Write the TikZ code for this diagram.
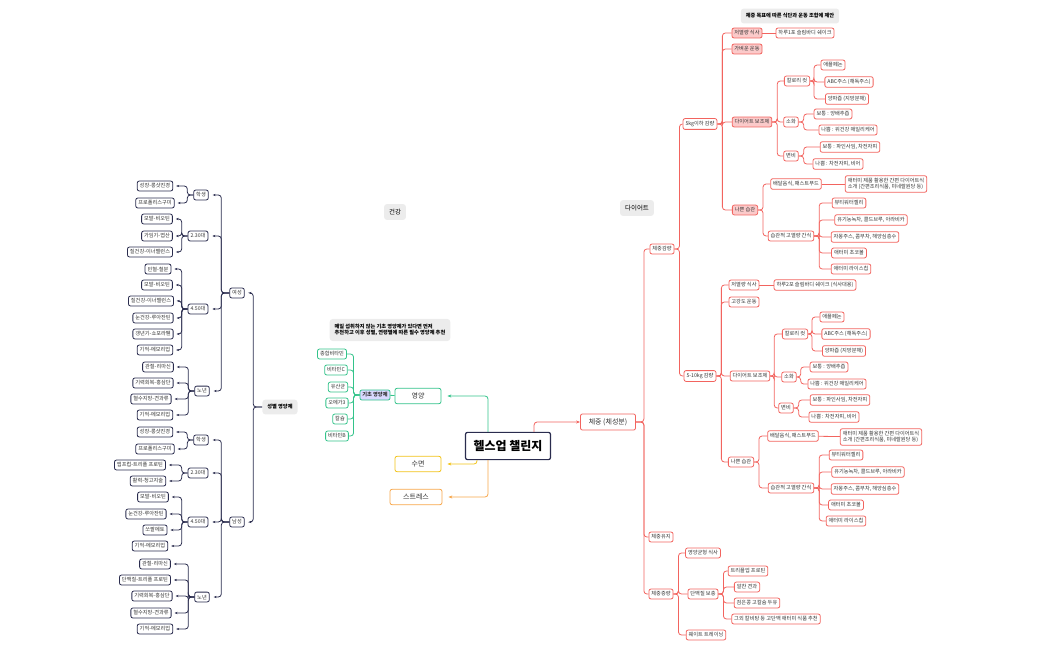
\documentclass[tikz,border=0pt]{standalone}
\usepackage{fontspec}
\setmainfont{Noto Sans CJK KR}
\usetikzlibrary{positioning,arrows.meta}
\definecolor{rline}{HTML}{F2645F}
\definecolor{rpink}{HTML}{FBCACA}
\definecolor{gline}{HTML}{33C38A}
\definecolor{nline}{HTML}{2A2C4E}
\definecolor{yline}{HTML}{F2C318}
\definecolor{oline}{HTML}{F7A64A}
\tikzset{x=1pt, y=-1pt,
box/.style={draw, rounded corners=2pt, line width=0.8pt, fill=white, inner xsep=2.5pt, inner ysep=2.6pt, font=\fontsize{5.2}{6}\selectfont, text=black!80}, % base box
rbox/.style={box, draw=rline},
rfill/.style={rbox, fill=rpink},
gbox/.style={box, draw=gline},
nbox/.style={box, draw=nline},
note/.style={fill=gray!15, rounded corners=3pt, inner sep=5pt, font=\fontsize{5.2}{6.5}\selectfont\bfseries, align=left},
rl/.style={draw=rline, line width=0.8pt, rounded corners=3pt},
gl/.style={draw=gline, line width=0.8pt, rounded corners=3pt},
nl/.style={draw=nline, line width=0.8pt, rounded corners=3pt, -{Stealth[length=3pt]}},
}
\begin{document}
\begin{tikzpicture}
\useasboundingbox (0,0) rectangle (1050,650);
% center
\node[draw=nline, line width=1.2pt, rounded corners=2pt, fill=white, inner xsep=8pt, inner ysep=8pt, font=\fontsize{12}{13}\selectfont\bfseries] (root) at (508,446) {헬스업 챌린지};
\node[rbox, font=\fontsize{7}{8}\selectfont, inner sep=4.5pt, minimum width=55pt] (wt) at (608,422) {체중 (체성분)};
\node[gbox, font=\fontsize{7}{8}\selectfont, inner sep=4.5pt, minimum width=46pt] (ny) at (418,396) {영양};
\node[box, draw=yline, font=\fontsize{7}{8}\selectfont, inner sep=4.5pt, minimum width=46pt] (sm) at (418,464) {수면};
\node[box, draw=oline, font=\fontsize{7}{8}\selectfont, inner sep=4.5pt, minimum width=52pt] (st) at (416,497) {스트레스};
\node[note, font=\fontsize{6.5}{7}\selectfont] at (637,208) {다이어트};
\node[note, font=\fontsize{6.5}{7}\selectfont] at (395,212) {건강};
\node[note] at (790,16) {체중 목표에 따른 식단과 운동 조합에 제안};
\node[note] at (390,330) {매일 섭취하지 않는 기초 영양제가 있다면 먼저\\추천하고 이후 성별, 연령별에 따른 필수 영양제 추천};
\node[note] (sb) at (280,407) {성별 영양제};

\draw[draw=rline, line width=0.8pt, rounded corners=3pt, -{Stealth[length=4pt]}] ([xshift=-17pt]root.north east) |- (wt.west);
\draw[draw=gline, line width=0.8pt, rounded corners=3pt, -{Stealth[length=4pt]}] ([xshift=-20pt]root.north) |- ([xshift=6pt]ny.east);
\draw[draw=yline, line width=0.8pt, rounded corners=3pt, -{Stealth[length=4pt]}] ([xshift=-31pt]root.south) |- ([xshift=6pt]sm.east);
\draw[draw=oline, line width=0.8pt, rounded corners=3pt, -{Stealth[length=4pt]}] ([xshift=-20pt]root.south) |- ([xshift=6pt]st.east);

% diet: level 1
\node[rbox] (lose) at (662,249) {체중감량};
\node[rbox] (keep) at (661,537) {체중유지};
\node[rbox] (gain) at (661,594) {체중증량};
\foreach \c in {lose,keep,gain} \draw[rl] (wt.east) -- ++(8,0) |- (\c.west);

% 5kg
\node[rbox] (a) at (700,124) {5kg이하 감량};
\node[rbox] (b) at (700,376) {5-10kg 감량};
\foreach \c in {a,b} \draw[rl] (lose.east) -- ++(5,0) |- (\c.west);
\node[rfill] (a1) at (747,33) {저열량 식사};
\node[rfill] (a2) at (747,49) {가벼운 운동};
\node[rfill] (a3) at (752,122) {다이어트 보조제};
\node[rfill] (a4) at (745,210) {나쁜 습관};
\foreach \c in {a1,a2,a3,a4} \draw[rl] (a.east) -- ++(5,0) |- (\c.west);
\node[rbox] (a11) at (805,33) {하루1포 슬림바디 쉐이크};
\draw[rl] (a1) -- (a11);
\node[rbox] (a31) at (797,81) {칼로리 컷};
\node[rbox] (a32) at (791,122) {소화};
\node[rbox] (a33) at (791,156) {변비};
\foreach \c in {a31,a32,a33} \draw[rl] (a3.east) -- ++(5,0) |- (\c.west);
\node[rbox] (a311) at (833,65) {애플페논};
\node[rbox] (a312) at (849,82) {ABC주스 (해독주스)};
\node[rbox] (a313) at (847,99) {양파즙 (지방분해)};
\foreach \c in {a311,a312,a313} \draw[rl] (a31.east) -- ++(4,0) |- (\c.west);
\node[rbox] (a321) at (833,114) {보통 : 양배추즙};
\node[rbox] (a322) at (848,130) {나쁨 : 위건강 매일리케어};
\foreach \c in {a321,a322} \draw[rl] (a32.east) -- ++(5,0) |- (\c.west);
\node[rbox] (a331) at (850,147) {보통 : 파인사임, 차전자피};
\node[rbox] (a332) at (838,164) {나쁨 : 차전자피, 비어};
\foreach \c in {a331,a332} \draw[rl] (a33.east) -- ++(5,0) |- (\c.west);
\node[rbox] (a41) at (796,184) {배달음식, 패스트푸드};
\node[rbox] (a42) at (791,236) {습관적 고열량 간식};
\foreach \c in {a41,a42} \draw[rl] (a4.east) -- ++(5,0) |- (\c.west);
\node[rbox, align=left] (a411) at (886,184) {애터미 제품 활용한 간편 다이어트식\\소개 (간편조리식품, 미네랄원당 등)};
\draw[rl] (a41) -- (a411);
\node[rbox] (a421) at (849,203) {뷰티워터젤리};
\node[rbox] (a422) at (871,220) {유기농녹차, 콜드브루, 아라비카};
\node[rbox] (a423) at (865,237) {자몽주스, 콤부차, 해양심층수};
\node[rbox] (a424) at (849,253) {애터미 초코볼};
\node[rbox] (a425) at (851,269) {애터미 라이스칩};
\foreach \c in {a421,a422,a423,a424,a425} \draw[rl] (a42.east) -- ++(5,0) |- (\c.west);

% 5-10kg
\node[rbox] (b1) at (744,285) {저열량 식사};
\node[rbox] (b2) at (744,302) {고강도 운동};
\node[rbox] (b3) at (750,376) {다이어트 보조제};
\node[rbox] (b4) at (741,462) {나쁜 습관};
\foreach \c in {b1,b2,b3,b4} \draw[rl] (b.east) -- ++(5,0) |- (\c.west);
\node[rbox] (b11) at (815,285) {하루2포 슬림바디 쉐이크 (식사대용)};
\draw[rl] (b1) -- (b11);
\node[rbox] (b31) at (795,334) {칼로리 컷};
\node[rbox] (b32) at (789,377) {소화};
\node[rbox] (b33) at (786,408) {변비};
\foreach \c in {b31,b32,b33} \draw[rl] (b3.east) -- ++(4,0) |- (\c.west);
\node[rbox] (b311) at (832,317) {애플페논};
\node[rbox] (b312) at (846,334) {ABC주스 (해독주스)};
\node[rbox] (b313) at (844,351) {양파즙 (지방분해)};
\foreach \c in {b311,b312,b313} \draw[rl] (b31.east) -- ++(4,0) |- (\c.west);
\node[rbox] (b321) at (829,367) {보통 : 양배추즙};
\node[rbox] (b322) at (837,384) {나쁨 : 위건강 매일리케어};
\foreach \c in {b321,b322} \draw[rl] (b32.east) -- ++(4,0) |- (\c.west);
\node[rbox] (b331) at (840,400) {보통 : 파인사임, 차전자피};
\node[rbox] (b332) at (834,417) {나쁨 : 차전자피, 비어};
\foreach \c in {b331,b332} \draw[rl] (b33.east) -- ++(5,0) |- (\c.west);
\node[rbox] (b41) at (793,436) {배달음식, 패스트푸드};
\node[rbox] (b42) at (791,488) {습관적 고열량 간식};
\foreach \c in {b41,b42} \draw[rl] (b4.east) -- ++(5,0) |- (\c.west);
\node[rbox, align=left] (b411) at (881,437) {애터미 제품 활용한 간편 다이어트식\\소개 (간편조리식품, 미네랄원당 등)};
\draw[rl] (b41) -- (b411);
\node[rbox] (b421) at (846,455) {뷰티워터젤리};
\node[rbox] (b422) at (868,472) {유기농녹차, 콜드브루, 아라비카};
\node[rbox] (b423) at (865,489) {자몽주스, 콤부차, 해양심층수};
\node[rbox] (b424) at (846,505) {애터미 초코볼};
\node[rbox] (b425) at (846,521) {애터미 라이스칩};
\foreach \c in {b421,b422,b423,b424,b425} \draw[rl] (b42.east) -- ++(5,0) |- (\c.west);

% gain
\node[rbox] (g1) at (703,553) {영양균형 식사};
\node[rbox] (g2) at (703,594) {단백질 보충};
\node[rbox] (g3) at (706,635) {웨이트 트레이닝};
\foreach \c in {g1,g2,g3} \draw[rl] (gain.east) -- ++(5,0) |- (\c.west);
\node[rbox] (g21) at (748,571) {트리플업 프로틴};
\node[rbox] (g22) at (747,587) {알찬 견과};
\node[rbox] (g23) at (757,603) {검은콩 고칼슘 두유};
\node[rbox] (g24) at (776,619) {그외 칼비탕 등 고단백 애터미 식품 추천};
\foreach \c in {g21,g22,g23,g24} \draw[rl] (g2.east) -- ++(5,0) |- (\c.west);

% basic nutrients
\node[gbox, fill=blue!15, font=\fontsize{5.2}{6}\selectfont\bfseries] (gi) at (375,395) {기초 영양제};
\draw[gl] (ny) -- (gi);
\node[gbox] (n1) at (332,354) {종합비타민};
\node[gbox] (n2) at (336,370) {비타민C};
\node[gbox] (n3) at (338,387) {유산균};
\node[gbox] (n4) at (337,403) {오메가3};
\node[gbox] (n5) at (340,419) {칼슘};
\node[gbox] (n6) at (337,436) {비타민B};
\foreach \c in {n1,n2,n3,n4,n5,n6} \draw[gl] (gi.west) -- ++(-6,0) |- (\c.east);

% gender
\node[nbox] (f) at (237,293) {여성};
\node[nbox] (m) at (237,522) {남성};
\foreach \c in {f,m} \draw[nl] (sb.west) -- ++(-9,0) |- ([xshift=4pt]\c.east);
\node[nbox] (f1) at (201,195) {학생};
\node[nbox] (f2) at (198,236) {2.30대};
\node[nbox] (f3) at (198,309) {4.50대};
\node[nbox] (f4) at (202,391) {노년};
\foreach \c in {f1,f2,f3,f4} \draw[nl] (f.west) -- ++(-8,0) |- ([xshift=4pt]\c.east);
\node[nbox] (f11) at (155,186) {성장-롱샷진경};
\node[nbox] (f12) at (155,203) {프로폴리스구미};
\foreach \c in {f11,f12} \draw[nl] (f1.west) -- ++(-6,0) |- ([xshift=3pt]\c.east);
\node[nbox] (f21) at (157,219) {모발-비오틴};
\node[nbox] (f22) at (157,236) {가임기-엽산};
\node[nbox] (f23) at (150,252) {질건강-이너밸런스};
\foreach \c in {f21,f22,f23} \draw[nl] (f2.west) -- ++(-6,0) |- ([xshift=3pt]\c.east);
\node[nbox] (f31) at (158,269) {빈혈-철분};
\node[nbox] (f32) at (157,285) {모발-비오틴};
\node[nbox] (f33) at (151,301) {질건강-이너밸런스};
\node[nbox] (f34) at (153,318) {눈건강-루아잔틴};
\node[nbox] (f35) at (153,334) {갱년기-쇼포라퉨};
\node[nbox] (f36) at (155,350) {기억-메모리업};
\foreach \c in {f31,f32,f33,f34,f35,f36} \draw[nl] (f3.west) -- ++(-6,0) |- ([xshift=3pt]\c.east);
\node[nbox] (f41) at (158,367) {관절-리마신};
\node[nbox] (f42) at (153,383) {기력회복-홍삼단};
\node[nbox] (f43) at (151,399) {혈수지방-견과류};
\node[nbox] (f44) at (155,415) {기억-메모리업};
\foreach \c in {f41,f42,f43,f44} \draw[nl] (f4.west) -- ++(-6,0) |- ([xshift=3pt]\c.east);
\node[nbox] (m1) at (201,440) {학생};
\node[nbox] (m2) at (198,473) {2.30대};
\node[nbox] (m3) at (198,522) {4.50대};
\node[nbox] (m4) at (202,597) {노년};
\foreach \c in {m1,m2,m3,m4} \draw[nl] (m.west) -- ++(-8,0) |- ([xshift=4pt]\c.east);
\node[nbox] (m11) at (155,432) {성장-롱샷진경};
\node[nbox] (m12) at (155,449) {프로폴리스구미};
\foreach \c in {m11,m12} \draw[nl] (m1.west) -- ++(-6,0) |- ([xshift=3pt]\c.east);
\node[nbox] (m21) at (140,465) {앱프럽-트리플 프로틴};
\node[nbox] (m22) at (148,481) {활력-청고지술};
\foreach \c in {m21,m22} \draw[nl] (m2.west) -- ++(-6,0) |- ([xshift=3pt]\c.east);
\node[nbox] (m31) at (153,497) {모발-비오틴};
\node[nbox] (m32) at (146,514) {눈건강-루아잔틴};
\node[nbox] (m33) at (155,530) {쏘팔메토};
\node[nbox] (m34) at (150,546) {기억-메모리업};
\foreach \c in {m31,m32,m33,m34} \draw[nl] (m3.west) -- ++(-6,0) |- ([xshift=3pt]\c.east);
\node[nbox] (m41) at (155,564) {관절-리마신};
\node[nbox] (m42) at (145,580) {단백질-트리플 프로틴};
\node[nbox] (m43) at (152,596) {기력회복-홍삼단};
\node[nbox] (m44) at (151,613) {혈수지방-견과류};
\node[nbox] (m45) at (155,629) {기억-메모리업};
\foreach \c in {m41,m42,m43,m44,m45} \draw[nl] (m4.west) -- ++(-6,0) |- ([xshift=3pt]\c.east);
\end{tikzpicture}
\end{document}
